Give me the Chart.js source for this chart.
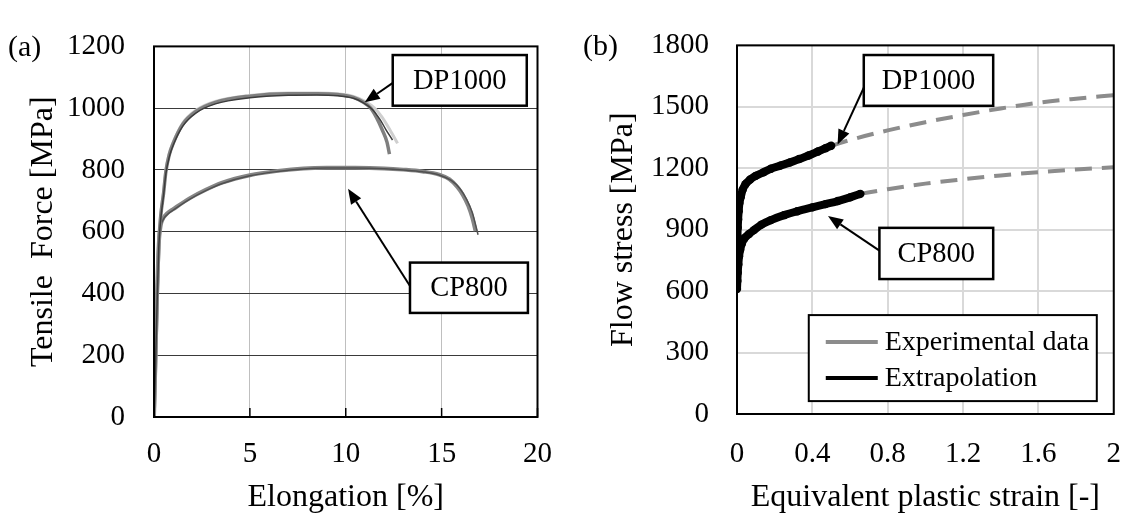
<!DOCTYPE html>
<html>
<head>
<meta charset="utf-8">
<script src="https://cdn.jsdelivr.net/npm/chart.js@4.4.0/dist/chart.umd.min.js"></script>
<style>
  html, body { margin: 0; padding: 0; background: #ffffff; }
  #wrap { position: relative; width: 1144px; height: 513px; }
  #chart-a { position: absolute; left: 0; top: 0; }
  #chart-b { position: absolute; left: 572px; top: 0; }
</style>
</head>
<body>
<div id="wrap">
  <canvas id="chart-a" width="572" height="513"></canvas>
  <canvas id="chart-b" width="572" height="513"></canvas>
</div>
<script>
// ---- datos (a): curvas de traccion, [elongacion %, fuerza MPa]
const DP1000_A = [[0, 0], [0.05, 100], [0.15, 350], [0.25, 560], [0.35, 650], [0.5, 725], [0.62, 795], [0.8, 850], [1.0, 886], [1.5, 948], [2.2, 990], [3.2, 1019], [5.0, 1039], [7.0, 1047], [8.5, 1047], [9.6, 1044], [10.4, 1035], [10.9, 1020], [11.3, 1000], [11.6, 970], [11.9, 930], [12.15, 890], [12.28, 851]];
const DP1000_B = [[0, 0], [0.05, 95], [0.15, 340], [0.25, 550], [0.35, 640], [0.5, 718], [0.62, 788], [0.8, 843], [1.0, 880], [1.5, 942], [2.2, 985], [3.2, 1014], [5.0, 1034], [7.0, 1042], [8.5, 1043], [9.6, 1040], [10.4, 1032], [10.9, 1018], [11.4, 995], [11.8, 962], [12.1, 930], [12.44, 897]];
const DP1000_C = [[0, 0], [0.05, 100], [0.15, 355], [0.25, 565], [0.35, 655], [0.5, 730], [0.62, 800], [0.8, 855], [1.0, 890], [1.5, 952], [2.2, 994], [3.2, 1022], [5.0, 1041], [7.0, 1049], [8.5, 1049], [9.6, 1046], [10.4, 1038], [11.0, 1022], [11.5, 1000], [11.9, 970], [12.3, 930], [12.7, 886]];
const CP800_A = [[0, 0], [0.05, 120], [0.15, 380], [0.25, 560], [0.35, 620], [0.45, 640], [0.7, 660], [1.0, 673], [1.85, 708], [2.7, 736], [3.56, 759], [5.0, 783], [6.46, 797], [7.8, 805], [9.0, 807], [10.5, 807], [12.0, 805], [13.0, 801], [14.0, 795], [14.87, 785], [15.4, 770], [15.82, 745], [16.1, 720], [16.39, 684], [16.6, 645], [16.77, 602]];
const CP800_B = [[0, 0], [0.05, 115], [0.15, 370], [0.25, 555], [0.35, 615], [0.45, 636], [0.7, 656], [1.0, 670], [1.85, 705], [2.7, 733], [3.56, 756], [5.0, 781], [6.46, 795], [7.8, 803], [9.0, 806], [10.5, 806], [12.0, 804], [13.0, 800], [14.0, 794], [14.9, 783], [15.5, 766], [15.95, 740], [16.3, 705], [16.6, 662], [16.9, 590]];

// ---- datos (b): curvas de fluencia, [deformacion plastica, tension MPa]
const DP1000_EXP = [[0, 830], [0.002, 870], [0.004, 910], [0.006, 950], [0.009, 990], [0.013, 1030], [0.02, 1060], [0.03, 1095], [0.045, 1122], [0.07, 1145], [0.1, 1163], [0.14, 1180], [0.18, 1198], [0.23, 1213], [0.28, 1228], [0.33, 1245], [0.38, 1262], [0.43, 1282], [0.47, 1298], [0.5, 1310]];
const CP800_EXP = [[0, 610], [0.002, 650], [0.004, 690], [0.007, 730], [0.011, 770], [0.017, 802], [0.025, 830], [0.04, 858], [0.064, 879], [0.09, 898], [0.13, 925], [0.18, 947], [0.25, 971], [0.32, 990], [0.4, 1009], [0.47, 1025], [0.535, 1040], [0.6, 1058], [0.655, 1075]];
const DP1000_EXT = [[0.5, 1310], [0.6, 1338], [0.8, 1385], [1.0, 1425], [1.2, 1460], [1.4, 1492], [1.6, 1520], [1.8, 1540], [2.0, 1557]];
const CP800_EXT = [[0.655, 1075], [0.8, 1098], [1.0, 1125], [1.2, 1146], [1.4, 1165], [1.6, 1181], [1.8, 1194], [2.0, 1205]];

const X_TICKS_A = ["0", "5", "10", "15", "20"];
const Y_TICKS_A = ["0", "200", "400", "600", "800", "1000", "1200"];
const X_TICKS_B = ["0", "0.4", "0.8", "1.2", "1.6", "2"];
const Y_TICKS_B = ["0", "300", "600", "900", "1200", "1500", "1800"];
const LEYENDA_TEXTOS = ["Experimental data", "Extrapolation"];
const LEYENDA_COLORES = ["#8c8c8c", "#000000"];

const FUENTE = '"Liberation Serif", "Times New Roman", serif';

function puntos(pares) {
  return pares.map(([x, y]) => ({ x, y }));
}

const pluginMarco = {
  id: "marco",
  afterDatasetsDraw(chart, args, opts) {
    const { ctx, chartArea: a } = chart;
    ctx.save();
    ctx.strokeStyle = "#000000";
    // marcas cortas hacia dentro en el eje x
    if (opts.marcas) {
      ctx.lineWidth = 1.5;
      chart.scales.x.ticks.forEach((t) => {
        const px = chart.scales.x.getPixelForValue(t.value);
        ctx.beginPath();
        ctx.moveTo(px, a.bottom);
        ctx.lineTo(px, a.bottom - opts.marcas);
        ctx.stroke();
      });
    }
    ctx.lineWidth = 2;
    ctx.strokeRect(a.left, a.top, a.right - a.left, a.bottom - a.top);
    ctx.restore();
  }
};

const pluginRotulos = {
  id: "rotulos",
  afterDraw(chart, args, opts) {
    const { ctx } = chart;
    const sx = chart.scales.x;
    const sy = chart.scales.y;
    ctx.save();
    (opts.items || []).forEach((it) => {
      const ax = sx.getPixelForValue(it.desde[0]);
      const ay = sy.getPixelForValue(it.desde[1]);
      const bx = sx.getPixelForValue(it.hasta[0]);
      const by = sy.getPixelForValue(it.hasta[1]);
      const ang = Math.atan2(by - ay, bx - ax);
      const largo = 15;
      const ancho = 6;
      const baseX = bx - largo * Math.cos(ang);
      const baseY = by - largo * Math.sin(ang);

      ctx.strokeStyle = "#000000";
      ctx.lineWidth = 2;
      ctx.beginPath();
      ctx.moveTo(ax, ay);
      ctx.lineTo(baseX, baseY);
      ctx.stroke();
      ctx.fillStyle = "#000000";
      ctx.beginPath();
      ctx.moveTo(bx, by);
      ctx.lineTo(baseX + ancho * Math.sin(ang), baseY - ancho * Math.cos(ang));
      ctx.lineTo(baseX - ancho * Math.sin(ang), baseY + ancho * Math.cos(ang));
      ctx.closePath();
      ctx.fill();

      const x1 = sx.getPixelForValue(it.caja[0]);
      const y1 = sy.getPixelForValue(it.caja[1]);
      const x2 = sx.getPixelForValue(it.caja[2]);
      const y2 = sy.getPixelForValue(it.caja[3]);
      ctx.fillStyle = "#ffffff";
      ctx.fillRect(x1, y1, x2 - x1, y2 - y1);
      ctx.lineWidth = 2.5;
      ctx.strokeRect(x1, y1, x2 - x1, y2 - y1);
      ctx.fillStyle = "#000000";
      ctx.font = `28.5px ${FUENTE}`;
      ctx.textAlign = "center";
      ctx.textBaseline = "middle";
      ctx.fillText(it.texto, (x1 + x2) / 2, (y1 + y2) / 2 + 1);
    });

    if (opts.panel) {
      ctx.fillStyle = "#000000";
      ctx.font = `30px ${FUENTE}`;
      ctx.textAlign = "left";
      ctx.textBaseline = "middle";
      ctx.fillText(opts.panel, chart.chartArea.left + opts.panelDx, chart.chartArea.top + 2);
    }
    ctx.restore();
  }
};

const pluginLeyenda = {
  id: "leyenda",
  afterDraw(chart, args, opts) {
    if (!opts.caja) return;
    const { ctx } = chart;
    const sx = chart.scales.x;
    const sy = chart.scales.y;
    const x1 = sx.getPixelForValue(opts.caja[0]);
    const y1 = sy.getPixelForValue(opts.caja[1]);
    const x2 = sx.getPixelForValue(opts.caja[2]);
    const y2 = sy.getPixelForValue(opts.caja[3]);
    ctx.save();
    ctx.fillStyle = "#ffffff";
    ctx.fillRect(x1, y1, x2 - x1, y2 - y1);
    ctx.strokeStyle = "#000000";
    ctx.lineWidth = 2;
    ctx.strokeRect(x1, y1, x2 - x1, y2 - y1);
    ctx.font = `28px ${FUENTE}`;
    ctx.textAlign = "left";
    ctx.textBaseline = "middle";
    LEYENDA_TEXTOS.forEach((texto, i) => {
      const yy = y1 + 27 + i * 36;
      ctx.strokeStyle = LEYENDA_COLORES[i];
      ctx.lineWidth = 4;
      ctx.beginPath();
      ctx.moveTo(x1 + 17, yy);
      ctx.lineTo(x1 + 69, yy);
      ctx.stroke();
      ctx.fillStyle = "#000000";
      ctx.fillText(texto, x1 + 76, yy + 1);
    });
    ctx.restore();
  }
};

function linea(datos, color, ancho) {
  return {
    data: puntos(datos),
    borderColor: color,
    borderWidth: ancho,
    pointRadius: 0,
    fill: false,
    cubicInterpolationMode: "monotone"
  };
}

function ejeY(ancho, texto, tituloPad, min, max, paso, gridColor, gridAncho, tickPad, etiquetas) {
  return {
    type: "linear",
    min, max,
    afterFit(scale) { scale.width = ancho; },
    ticks: {
      stepSize: paso,
      color: "#000000",
      padding: tickPad,
      font: { family: FUENTE, size: 29 },
      callback(valor, i) { return etiquetas[i]; }
    },
    grid: { color: gridColor, lineWidth: gridAncho, drawTicks: false },
    border: { display: false },
    title: {
      display: true,
      text: texto,
      color: "#000000",
      font: { family: FUENTE, size: 32 },
      padding: { top: tituloPad, bottom: 0 }
    }
  };
}

function ejeX(alto, texto, min, max, paso, gridColor, gridAncho, tickPad, etiquetas) {
  return {
    type: "linear",
    min, max,
    afterFit(scale) { scale.height = alto; },
    ticks: {
      stepSize: paso,
      color: "#000000",
      padding: tickPad,
      maxRotation: 0,
      font: { family: FUENTE, size: 29 },
      callback(valor, i) { return etiquetas[i]; }
    },
    grid: { color: gridColor, lineWidth: gridAncho, drawTicks: false },
    border: { display: false },
    title: {
      display: true,
      text: texto,
      color: "#000000",
      font: { family: FUENTE, size: 32 },
      padding: { top: 0, bottom: -4 }
    }
  };
}

function iniciar() {
  new Chart(document.getElementById("chart-a"), {
    type: "line",
    data: {
      datasets: [
        linea(DP1000_B, "#3c3c3c", 1.5),
        linea(DP1000_A, "#7f7f7f", 3.5),
        linea(DP1000_C, "#cfcfcf", 3),
        linea(CP800_B, "#505050", 1.5),
        linea(CP800_A, "#858585", 4)
      ]
    },
    options: {
      responsive: false,
      animation: false,
      layout: { padding: { left: 0, right: 28, top: 24, bottom: 0 } },
      plugins: {
        legend: { display: false },
        tooltip: { enabled: false },
        marco: { marcas: 9 },
        rotulos: {
          panel: "(a)",
          panelDx: -146,
          items: [
            { texto: "DP1000", caja: [12.45, 1172, 19.44, 1008], desde: [12.53, 1085], hasta: [10.99, 1019] },
            { texto: "CP800", caja: [13.35, 500, 19.5, 337], desde: [13.35, 424], hasta: [10.12, 739] }
          ]
        }
      },
      scales: {
        x: ejeX(96, "Elongation [%]", 0, 20, 5, "#bfbfbf", 1, 20, X_TICKS_A),
        y: ejeY(154, "Tensile  Force [MPa]", 24, 0, 1200, 200, "#3a3a3a", 1, 29, Y_TICKS_A)
      }
    },
    plugins: [pluginMarco, pluginRotulos]
  });

  new Chart(document.getElementById("chart-b"), {
    type: "line",
    data: {
      datasets: [
        {
          data: puntos(DP1000_EXP), borderColor: "#000000", borderWidth: 8,
          pointRadius: 4.2, pointBackgroundColor: "#000000", pointBorderWidth: 0,
          cubicInterpolationMode: "monotone", fill: false
        },
        {
          data: puntos(CP800_EXP), borderColor: "#000000", borderWidth: 8,
          pointRadius: 4.2, pointBackgroundColor: "#000000", pointBorderWidth: 0,
          cubicInterpolationMode: "monotone", fill: false
        },
        {
          data: puntos(DP1000_EXT), borderColor: "#8c8c8c", borderWidth: 4, borderDash: [17, 10],
          pointRadius: 0, cubicInterpolationMode: "monotone", fill: false
        },
        {
          data: puntos(CP800_EXT), borderColor: "#8c8c8c", borderWidth: 4, borderDash: [17, 10],
          pointRadius: 0, cubicInterpolationMode: "monotone", fill: false
        }
      ]
    },
    options: {
      responsive: false,
      animation: false,
      layout: { padding: { left: 0, right: 11, top: 23, bottom: 0 } },
      plugins: {
        legend: { display: false },
        tooltip: { enabled: false },
        marco: { marcas: 0 },
        rotulos: {
          panel: "(b)",
          panelDx: -154,
          items: [
            { texto: "DP1000", caja: [0.673, 1753, 1.36, 1505], desde: [0.684, 1615], hasta: [0.534, 1316] },
            { texto: "CP800", caja: [0.756, 909, 1.36, 659], desde: [0.756, 798], hasta: [0.483, 967] }
          ]
        },
        leyenda: { caja: [0.381, 483, 1.91, 63] }
      },
      scales: {
        x: ejeX(99, "Equivalent plastic strain [-]", 0, 2, 0.4, "#d9d9d9", 2, 23, X_TICKS_B),
        y: ejeY(165, "Flow stress [MPa]", 32, 0, 1800, 300, "#d9d9d9", 2, 28, Y_TICKS_B)
      }
    },
    plugins: [pluginMarco, pluginRotulos, pluginLeyenda]
  });
}

document.addEventListener("DOMContentLoaded", iniciar);
</script>
</body>
</html>
